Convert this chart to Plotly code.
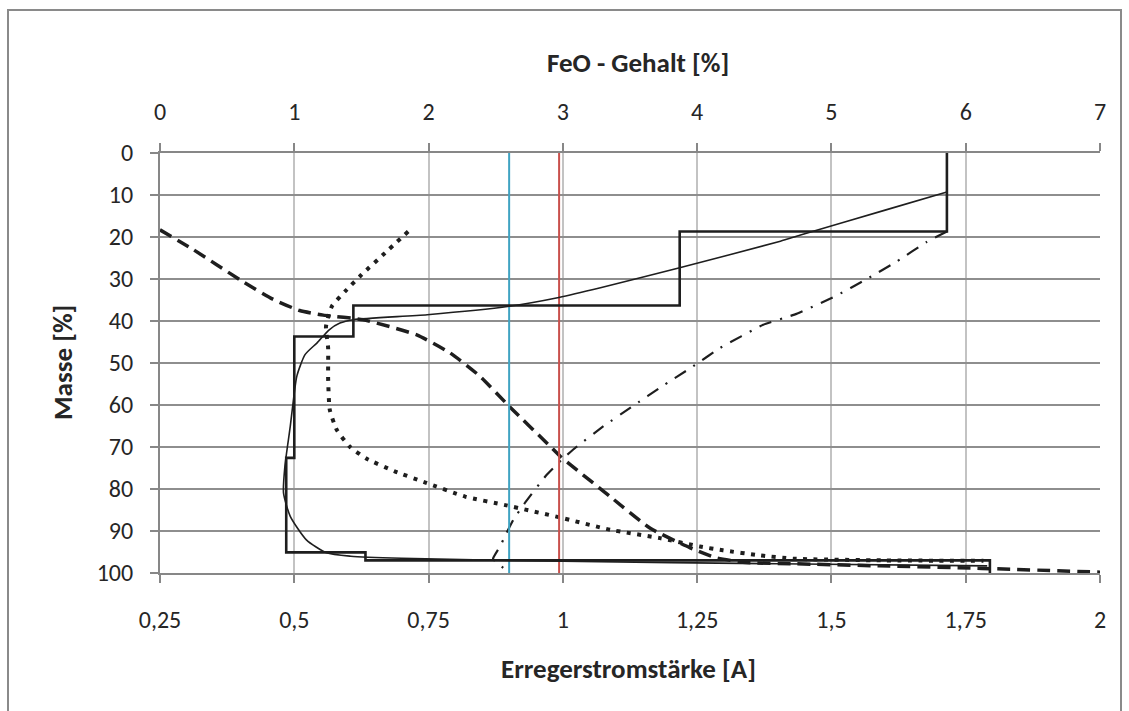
import plotly.graph_objects as go

# ---------------- data ----------------
# Step curve (FeO content, top axis) vs mass [%]
step_feo = [5.86, 5.86, 3.87, 3.87, 1.44, 1.44, 1.00, 1.00, 0.94, 0.94, 1.53, 1.53, 6.18, 6.18]
step_mass = [0, 18.7, 18.7, 36.3, 36.3, 43.7, 43.7, 72.6, 72.6, 95.1, 95.1, 97.0, 97.0, 100]

# Smooth fitted curve (FeO content, top axis)
fit_feo = [5.86, 5.40, 4.77, 4.62, 3.87, 3.28, 2.97, 2.60, 1.99, 1.44, 1.34, 1.26, 1.17,
           1.08, 1.02, 1.00, 0.97, 0.93, 0.92, 0.97, 1.09, 1.24, 1.42, 1.80, 3.00, 4.60, 6.16]
fit_mass = [9.3, 13.6, 19.5, 21.0, 27.3, 32.1, 34.4, 36.5, 38.5, 39.7, 40.5, 42.1, 45.2,
            48.0, 53.0, 57.1, 65.1, 74.6, 81.0, 86.5, 92.1, 95.2, 96.0, 96.5, 97.2, 97.8, 98.3]

# Dashed curve (current, bottom axis)
dash_i = [0.25, 0.312, 0.399, 0.460, 0.510, 0.554, 0.628, 0.728, 0.79, 0.846, 0.90, 0.976, 0.995,
          1.088, 1.162, 1.237, 1.286, 1.342, 1.43, 1.59, 1.78, 2.0]
dash_m = [18.3, 23.0, 30.2, 34.8, 37.5, 38.6, 39.7, 43.3, 47.6, 53.2, 60.3, 69.8, 72.2,
          81.8, 89.3, 94.0, 96.4, 97.5, 97.8, 98.3, 98.9, 99.8]

# Dotted curve (current, bottom axis)
dot_i = [0.712, 0.669, 0.625, 0.598, 0.570, 0.559, 0.563, 0.563, 0.566, 0.579, 0.604, 0.635,
         0.687, 0.743, 0.818, 0.895, 0.992, 1.088, 1.181, 1.255, 1.298, 1.367, 1.43, 1.60, 1.783]
dot_m = [18.7, 23.8, 29.0, 32.5, 36.5, 41.3, 46.4, 53.6, 61.1, 65.9, 70.0, 72.8,
         75.8, 78.4, 81.8, 83.9, 86.7, 89.7, 91.7, 93.7, 94.6, 95.8, 96.6, 97.0, 97.1]

# Dash-dot curve (current, bottom axis)
dd_i = [1.715, 1.677, 1.622, 1.566, 1.507, 1.435, 1.373, 1.293, 1.240, 1.184, 1.131, 1.075,
        1.025, 0.998, 0.970, 0.930, 0.908, 0.895, 0.883, 0.870, 0.889]
dd_m = [18.7, 21.2, 25.8, 30.0, 34.1, 38.3, 40.9, 46.4, 51.0, 55.6, 60.2, 65.1,
        70.0, 73.0, 76.6, 83.2, 87.3, 90.5, 93.7, 96.6, 98.8]

# Vertical reference lines (current)
blue_i = [0.90, 0.90]
red_i = [0.993, 0.993]
vline_m = [0, 100]

x_ticks = [0.25, 0.5, 0.75, 1, 1.25, 1.5, 1.75, 2]
x_labels = ["0,25", "0,5", "0,75", "1", "1,25", "1,5", "1,75", "2"]
x2_ticks = [0, 1, 2, 3, 4, 5, 6, 7]
x2_labels = ["0", "1", "2", "3", "4", "5", "6", "7"]
y_ticks = [0, 10, 20, 30, 40, 50, 60, 70, 80, 90, 100]
y_labels = ["0", "10", "20", "30", "40", "50", "60", "70", "80", "90", "100"]

# ---------------- figure ----------------
FONT = "Carlito, Lato, sans-serif"
TXT = "#262626"
BLACK = "#1e1e1e"
TICKFONT = dict(family=FONT, size=24, color=TXT)

fig = go.Figure()

fig.add_trace(go.Scatter(x=dash_i, y=dash_m, mode="lines", xaxis="x", yaxis="y",
                         line=dict(color=BLACK, width=3.5, dash="13px,7px",
                                   shape="spline", smoothing=0.5), showlegend=False))
fig.add_trace(go.Scatter(x=dot_i, y=dot_m, mode="lines", xaxis="x", yaxis="y",
                         line=dict(color=BLACK, width=4, dash="4px,6.5px",
                                   shape="spline", smoothing=0.5), showlegend=False))
fig.add_trace(go.Scatter(x=dd_i, y=dd_m, mode="lines", xaxis="x", yaxis="y",
                         line=dict(color=BLACK, width=2.2, dash="13px,9px,2px,9px",
                                   shape="spline", smoothing=0.3), showlegend=False))
fig.add_trace(go.Scatter(x=step_feo, y=step_mass, mode="lines", xaxis="x2", yaxis="y",
                         line=dict(color=BLACK, width=2.6), showlegend=False))
fig.add_trace(go.Scatter(x=fit_feo, y=fit_mass, mode="lines", xaxis="x2", yaxis="y",
                         line=dict(color=BLACK, width=1.6, shape="spline", smoothing=0.6),
                         showlegend=False))
fig.add_trace(go.Scatter(x=blue_i, y=vline_m, mode="lines", xaxis="x", yaxis="y",
                         line=dict(color="#3fa3c2", width=2), showlegend=False))
fig.add_trace(go.Scatter(x=red_i, y=vline_m, mode="lines", xaxis="x", yaxis="y",
                         line=dict(color="#c9504c", width=2), showlegend=False))

fig.update_layout(
    width=1129, height=711,
    margin=dict(l=160, r=29, t=153, b=138, autoexpand=False),
    paper_bgcolor="white", plot_bgcolor="white",
    font=dict(family=FONT, size=24, color=TXT),
    xaxis=dict(range=[0.25, 2], tickmode="array", tickvals=x_ticks, ticktext=x_labels,
               side="bottom", showgrid=True, gridcolor="#c3c3c3", gridwidth=2,
               showline=True, linecolor="#878787", linewidth=2,
               ticks="outside", ticklen=8, tickwidth=1.5, tickcolor="#878787",
               tickfont=TICKFONT, zeroline=False, ticklabelstandoff=16),
    xaxis2=dict(range=[0, 7], tickmode="array", tickvals=x2_ticks, ticktext=x2_labels,
                side="top", overlaying="x", showgrid=False,
                showline=True, linecolor="#878787", linewidth=2,
                ticks="outside", ticklen=8, tickwidth=1.5, tickcolor="#878787",
                tickfont=TICKFONT, zeroline=False, ticklabelstandoff=13),
    yaxis=dict(range=[100, 0], tickmode="array", tickvals=y_ticks, ticktext=y_labels,
               showgrid=True, gridcolor="#8e8e8e", gridwidth=2,
               showline=True, linecolor="#878787", linewidth=2,
               ticks="outside", ticklen=8, tickwidth=1.5, tickcolor="#878787",
               tickfont=TICKFONT, zeroline=False, ticklabelstandoff=12),
    annotations=[
        dict(text="<b>FeO - Gehalt [%]</b>", xref="paper", yref="paper",
             x=(638 - 160) / 940, y=(573 - 62) / 420, showarrow=False,
             font=dict(family=FONT, size=27, color=TXT), xanchor="center", yanchor="middle"),
        dict(text="<b>Erregerstromstärke [A]</b>", xref="paper", yref="paper",
             x=(628 - 160) / 940, y=(573 - 668) / 420, showarrow=False,
             font=dict(family=FONT, size=27, color=TXT), xanchor="center", yanchor="middle"),
        dict(text="<b>Masse [%]</b>", xref="paper", yref="paper",
             x=(62 - 160) / 940, y=(573 - 363) / 420, showarrow=False, textangle=-90,
             font=dict(family=FONT, size=27, color=TXT), xanchor="center", yanchor="middle"),
    ],
    shapes=[
        dict(type="rect", xref="paper", yref="paper",
             x0=(8 - 160) / 940, x1=(1121 - 160) / 940,
             y0=(573 - 720) / 420, y1=(573 - 10) / 420,
             line=dict(color="#8a8a8a", width=2), fillcolor="rgba(0,0,0,0)", layer="below"),
    ],
)

fig.write_html("out.html")
